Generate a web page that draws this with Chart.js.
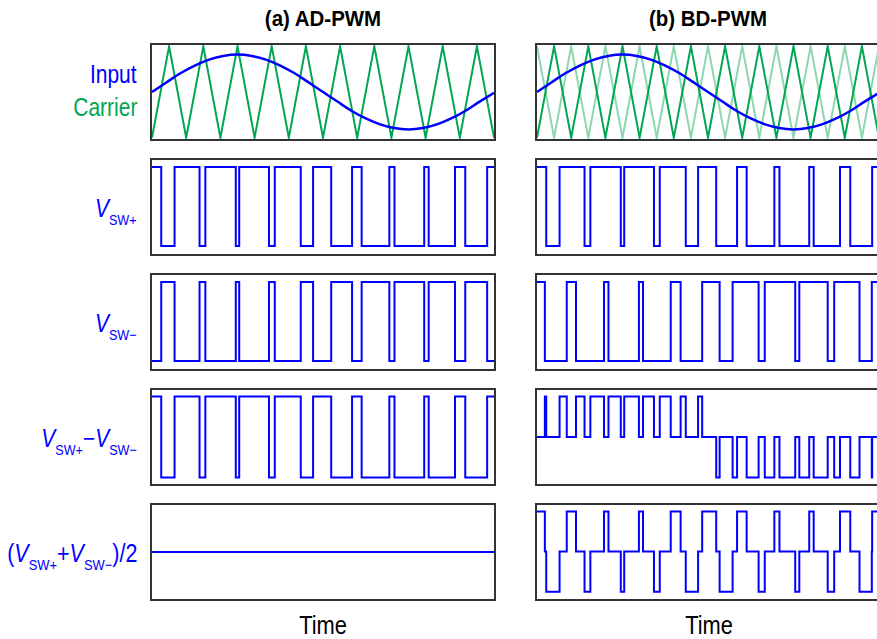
<!DOCTYPE html>
<html>
<head>
<meta charset="utf-8">
<script src="https://cdn.jsdelivr.net/npm/chart.js@4.4.1/dist/chart.umd.min.js"></script>
<style>
  body { margin: 0; width: 877px; height: 639px; overflow: hidden; background: #fff; position: relative;
         font-family: "Liberation Sans Narrow", "Liberation Sans", Arial, sans-serif; }
  .panel { position: absolute; border: 2px solid #333; width: 342px; height: 94px; }
  .panel canvas { display: block; }
  .title { position: absolute; top: 8px; width: 200px; text-align: center; font-family: "Liberation Sans", Arial, sans-serif;
           font-weight: bold; font-size: 22px; line-height: 22px; color: #000; transform: scaleX(0.93); }
  .time { position: absolute; top: 612px; width: 120px; text-align: center; font-size: 26px; line-height: 26px; color: #000;
          transform: scaleX(0.84); }
  .lab { position: absolute; right: 740px; text-align: right; font-size: 25px; line-height: 25px;
         color: #0000ff; white-space: nowrap; transform: scaleX(0.84); transform-origin: 100% 50%; }
  .lab i { font-style: italic; }
  .lab .s { font-size: 15px; position: relative; top: 8px; }
</style>
</head>
<body>

<div class="title" style="left:223px">(a) AD-PWM</div>
<div class="title" style="left:608px">(b) BD-PWM</div>

<div class="lab" style="top:62px">Input</div>
<div class="lab" style="top:95px;color:#00a651">Carrier</div>
<div class="lab" style="top:196px"><i>V</i><span class="s">SW+</span></div>
<div class="lab" style="top:311px"><i>V</i><span class="s">SW−</span></div>
<div class="lab" style="top:426px"><i>V</i><span class="s">SW+</span>−<i>V</i><span class="s">SW−</span></div>
<div class="lab" style="top:541px;transform:scaleX(0.86)">(<i>V</i><span class="s">SW+</span>+<i>V</i><span class="s">SW−</span>)/2</div>

<div class="time" style="left:263px">Time</div>
<div class="time" style="left:649px">Time</div>

<div class="panel" style="left:150px;top:43px"><canvas id="a1" width="342" height="94"></canvas></div>
<div class="panel" style="left:150px;top:158px"><canvas id="a2" width="342" height="94"></canvas></div>
<div class="panel" style="left:150px;top:273px"><canvas id="a3" width="342" height="94"></canvas></div>
<div class="panel" style="left:150px;top:388px"><canvas id="a4" width="342" height="94"></canvas></div>
<div class="panel" style="left:150px;top:503px"><canvas id="a5" width="342" height="94"></canvas></div>

<div class="panel" style="left:535px;top:43px"><canvas id="b1" width="342" height="94"></canvas></div>
<div class="panel" style="left:535px;top:158px"><canvas id="b2" width="342" height="94"></canvas></div>
<div class="panel" style="left:535px;top:273px"><canvas id="b3" width="342" height="94"></canvas></div>
<div class="panel" style="left:535px;top:388px"><canvas id="b4" width="342" height="94"></canvas></div>
<div class="panel" style="left:535px;top:503px"><canvas id="b5" width="342" height="94"></canvas></div>

<script>
// input sine (one period)
const inputT = [0, 0.042, 0.083, 0.125, 0.167, 0.208, 0.25, 0.292, 0.333, 0.375, 0.417, 0.458, 0.5,
                0.542, 0.583, 0.625, 0.667, 0.708, 0.75, 0.792, 0.833, 0.875, 0.917, 0.958, 1];
const inputV = [0, 0.21, 0.41, 0.58, 0.71, 0.79, 0.82, 0.79, 0.71, 0.58, 0.41, 0.21, 0,
                -0.21, -0.41, -0.58, -0.71, -0.79, -0.82, -0.79, -0.71, -0.58, -0.41, -0.21, -0.02];

// triangle carrier vertices
const carrierT = [0, 0.05, 0.1, 0.15, 0.2, 0.25, 0.3, 0.35, 0.4, 0.45, 0.5,
                  0.55, 0.6, 0.65, 0.7, 0.75, 0.8, 0.85, 0.9, 0.95, 1];
const carrierV = [-1, 1, -1, 1, -1, 1, -1, 1, -1, 1, -1, 1, -1, 1, -1, 1, -1, 1, -1, 1, -1];
const carrierInvV = [1, -1, 1, -1, 1, -1, 1, -1, 1, -1, 1, -1, 1, -1, 1, -1, 1, -1, 1, -1, 1];

// switching edges (time, level after edge)
const swPlusT = [0, 0.027, 0.066, 0.139, 0.156, 0.245, 0.255, 0.342, 0.359, 0.435, 0.471,
                 0.524, 0.585, 0.613, 0.694, 0.709, 0.796, 0.809, 0.886, 0.916, 0.980, 1];
const swPlusV = [1, 0, 1, 0, 1, 0, 1, 0, 1, 0, 1, 0, 1, 0, 1, 0, 1, 0, 1, 0, 1, 1];
const adMinusV = [0, 1, 0, 1, 0, 1, 0, 1, 0, 1, 0, 1, 0, 1, 0, 1, 0, 1, 0, 1, 0, 0];
const adDiffV = [1, -1, 1, -1, 1, -1, 1, -1, 1, -1, 1, -1, 1, -1, 1, -1, 1, -1, 1, -1, 1, 1];
const adCmT = [0, 1];
const adCmV = [0.5, 0.5];

const bdMinusT = [0, 0.023, 0.087, 0.114, 0.196, 0.209, 0.298, 0.310, 0.391, 0.420, 0.483,
                  0.534, 0.572, 0.648, 0.666, 0.755, 0.767, 0.850, 0.869, 0.943, 0.979, 1];
const bdMinusV = [1, 0, 1, 0, 1, 0, 1, 0, 1, 0, 1, 0, 1, 0, 1, 0, 1, 0, 1, 0, 1, 1];

const bdDiffT = [0, 0.023, 0.027, 0.066, 0.087, 0.114, 0.139, 0.156, 0.196, 0.209, 0.245, 0.255,
                 0.298, 0.310, 0.342, 0.359, 0.391, 0.420, 0.435, 0.471, 0.483, 0.524, 0.534,
                 0.572, 0.585, 0.613, 0.648, 0.666, 0.694, 0.709, 0.755, 0.767, 0.796, 0.809,
                 0.850, 0.869, 0.886, 0.916, 0.943, 0.979, 0.980, 1];
const bdDiffV = [0, 1, 0, 1, 0, 1, 0, 1, 0, 1, 0, 1, 0, 1, 0, 1, 0, 1, 0, 1, 0, -1, 0,
                 -1, 0, -1, 0, -1, 0, -1, 0, -1, 0, -1, 0, -1, 0, -1, 0, -1, 0, 0];

const bdCmT = [0, 0.023, 0.027, 0.066, 0.087, 0.114, 0.139, 0.156, 0.196, 0.209, 0.245, 0.255,
               0.298, 0.310, 0.342, 0.359, 0.391, 0.420, 0.435, 0.471, 0.483, 0.524, 0.534,
               0.572, 0.585, 0.613, 0.648, 0.666, 0.694, 0.709, 0.755, 0.767, 0.796, 0.809,
               0.850, 0.869, 0.886, 0.916, 0.943, 0.979, 0.980, 1];
const bdCmV = [1, 0.5, 0, 0.5, 1, 0.5, 0, 0.5, 1, 0.5, 0, 0.5, 1, 0.5, 0, 0.5, 1, 0.5, 0, 0.5, 1, 0.5, 0,
               0.5, 1, 0.5, 0, 0.5, 1, 0.5, 0, 0.5, 1, 0.5, 0, 0.5, 1, 0.5, 0, 0.5, 1, 1];

const BLUE = '#0000ff';
const GREEN = '#00a651';
const LIGHT_GREEN = 'rgba(0,166,81,0.45)';

function pts(t, v) {
  return t.map((x, i) => ({ x: x, y: v[i] }));
}

function sineSet() {
  return { data: pts(inputT, inputV), borderColor: BLUE, borderWidth: 2.5, tension: 0.4, clip: false };
}
function carrierSet(v, color) {
  return { data: pts(carrierT, v), borderColor: color, borderWidth: 2, tension: 0, clip: false };
}
function stepSet(t, v) {
  return { data: pts(t, v), borderColor: BLUE, borderWidth: 2, stepped: true, clip: false };
}

function makePanel(id, datasets, yMin, yMax) {
  return new Chart(document.getElementById(id), {
    type: 'line',
    data: { datasets: datasets },
    options: {
      responsive: false,
      animation: false,
      events: [],
      layout: { padding: 0 },
      elements: { point: { radius: 0 } },
      plugins: { legend: { display: false }, tooltip: { enabled: false } },
      scales: {
        x: { type: 'linear', min: 0, max: 1, display: false },
        y: { type: 'linear', min: yMin, max: yMax, display: false }
      }
    }
  });
}

// (a) AD-PWM
makePanel('a1', [sineSet(), carrierSet(carrierV, GREEN)], -1.03, 1.03);
makePanel('a2', [stepSet(swPlusT, swPlusV)], -0.1, 1.09);
makePanel('a3', [stepSet(swPlusT, adMinusV)], -0.1, 1.09);
makePanel('a4', [stepSet(swPlusT, adDiffV)], -1.16, 1.16);
makePanel('a5', [stepSet(adCmT, adCmV)], -0.08, 1.08);

// (b) BD-PWM
makePanel('b1', [sineSet(), carrierSet(carrierV, GREEN), carrierSet(carrierInvV, LIGHT_GREEN)], -1.03, 1.03);
makePanel('b2', [stepSet(swPlusT, swPlusV)], -0.1, 1.09);
makePanel('b3', [stepSet(bdMinusT, bdMinusV)], -0.1, 1.09);
makePanel('b4', [stepSet(bdDiffT, bdDiffV)], -1.16, 1.16);
makePanel('b5', [stepSet(bdCmT, bdCmV)], -0.09, 1.08);
</script>
</body>
</html>
